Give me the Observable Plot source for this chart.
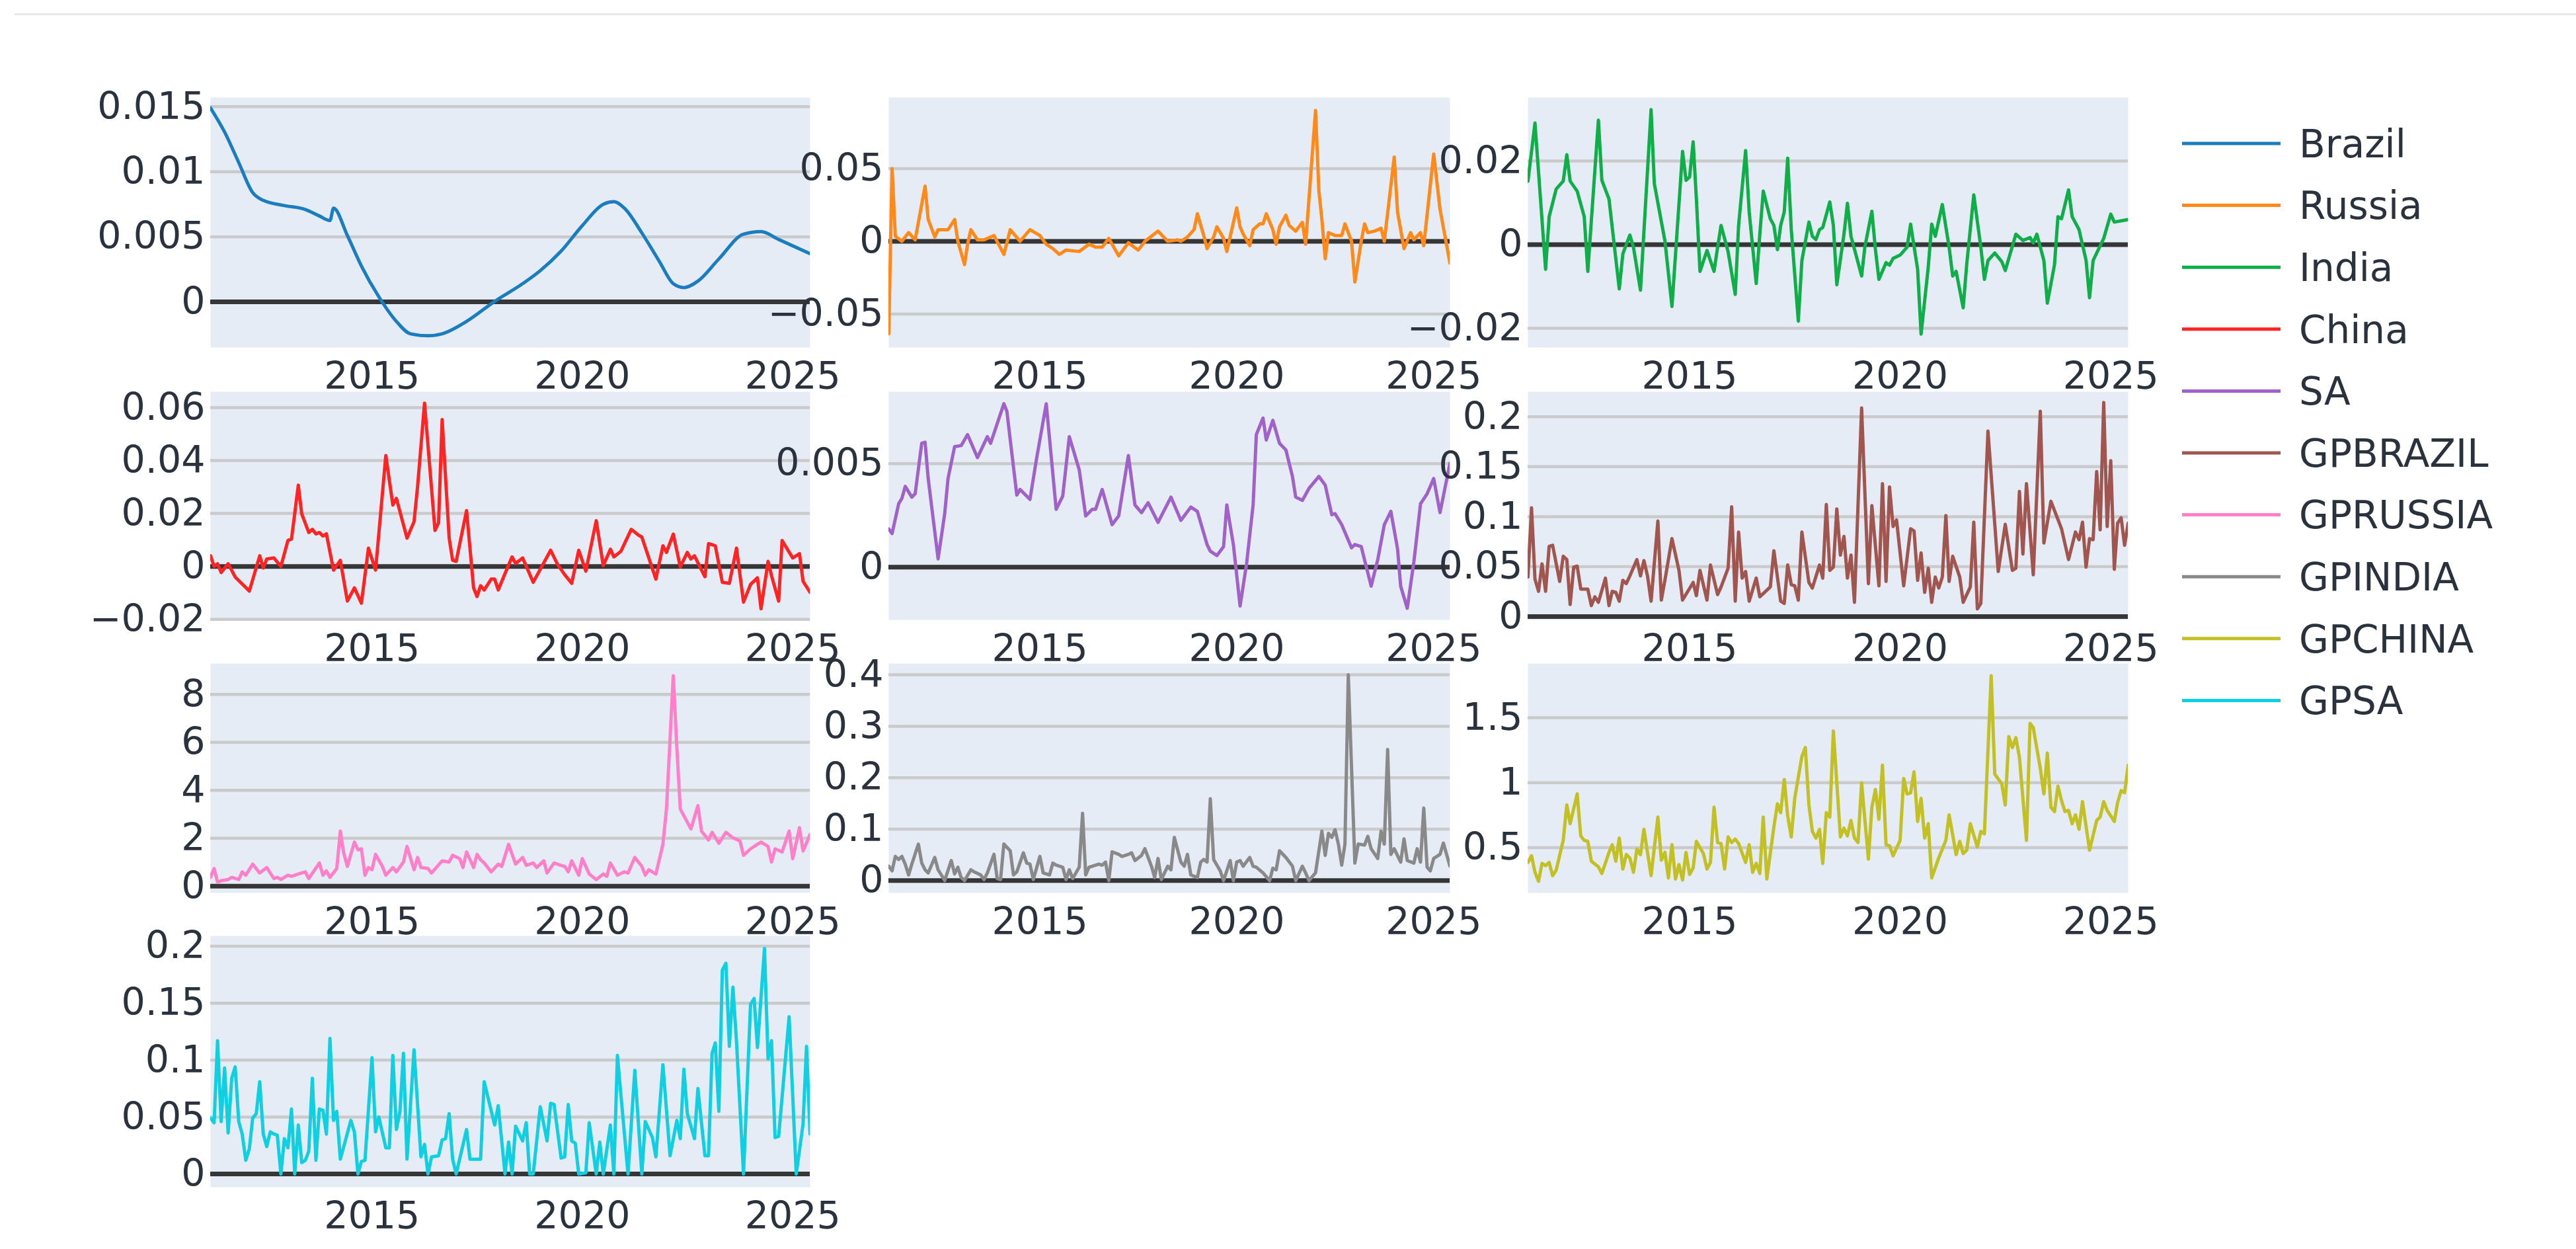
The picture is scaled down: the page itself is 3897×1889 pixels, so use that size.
<!DOCTYPE html>
<html>
<head>
<meta charset="utf-8">
<script src="https://cdn.jsdelivr.net/npm/d3@7"></script>
<script src="https://cdn.jsdelivr.net/npm/@observablehq/plot@0.6"></script>
<style>
  html, body { margin: 0; padding: 0; background: #ffffff; }
  #chart { position: relative; width: 3897px; height: 1889px; overflow: hidden; background: #ffffff; }
  #chart .panel { position: absolute; }
  #topRule { position: absolute; left: 22px; right: 0; top: 20px; height: 3px; background: #e8e8e8; }
  #legend { position: absolute; left: 0; top: 0; }
</style>
</head>
<body>
<div id="chart"><div id="topRule"></div></div>
<script>
// ---------- DATA: [months since 2011-03, value] ----------
const brazil = [[0,0.0149],[4,0.01305],[8,0.0107],[12,0.0084],[15,0.0078],[21,0.0074],[27,0.0071],[31,0.0066],[34,0.00625],[35,0.0072],[39,0.0051],[43,0.00276],[48,0.0004],[53,-0.0015],[57,-0.00245],[62,-0.0026],[66,-0.00245],[73,-0.0015],[81,0.00004],[89,0.0014],[94,0.0024],[100,0.0039],[106,0.00586],[112,0.0075],[115,0.0077],[118,0.0072],[123,0.0053],[128,0.0031],[132,0.0014],[135,0.0011],[139,0.0016],[145,0.0033],[152,0.0052],[157,0.0054],[162,0.0048],[171,0.0037]];

const russia = [[0,-0.0636],[1,0.05],[2,0.0035],[4,0.0],[6,0.006],[8,0.001],[11,0.038],[12,0.015],[14,0.003],[15,0.008],[18,0.008],[20,0.015],[21,0.0],[23,-0.016],[24,-0.002],[25,0.008],[27,0.001],[29,0.001],[32,0.004],[35,-0.009],[37,0.008],[40,0.0],[43,0.008],[46,0.004],[48,-0.002],[50,-0.005],[52,-0.009],[54,-0.006],[58,-0.007],[61,-0.002],[63,-0.004],[65,-0.004],[67,0.002],[70,-0.01],[73,-0.001],[76,-0.006],[78,0.0],[82,0.007],[85,0.0],[88,0.001],[89,0.0],[91,0.003],[93,0.008],[94,0.019],[96,0.004],[97,-0.005],[99,0.003],[100,0.01],[102,0.002],[103,-0.007],[106,0.023],[107,0.01],[108,0.005],[110,-0.003],[111,0.008],[113,0.012],[114,0.012],[115,0.019],[117,0.008],[118,-0.002],[119,0.01],[121,0.018],[122,0.011],[124,0.007],[126,0.013],[127,-0.002],[130,0.09],[131,0.035],[132,0.015],[133,-0.012],[134,0.006],[136,0.004],[138,0.004],[139,0.012],[141,0.0],[142,-0.028],[144,0.0],[145,0.012],[146,0.006],[148,0.007],[150,0.009],[151,0.0],[154,0.058],[155,0.02],[157,-0.005],[159,0.006],[160,0.001],[162,0.006],[163,-0.003],[166,0.06],[168,0.022],[171,-0.015]];

const india = [[0,0.0152],[2,0.0291],[5,-0.0059],[6,0.0067],[8,0.0133],[10,0.0152],[11,0.0215],[12,0.0152],[14,0.0128],[16,0.0067],[17,-0.0064],[20,0.0298],[21,0.0154],[23,0.0109],[26,-0.0106],[27,-0.0022],[29,0.0023],[30,-0.0006],[32,-0.0109],[35,0.0323],[36,0.0146],[39,0.0009],[41,-0.0148],[44,0.0223],[45,0.0154],[46,0.0162],[47,0.0246],[48,0.0109],[49,-0.0064],[51,-0.0014],[53,-0.0064],[54,-0.0006],[55,0.0046],[57,-0.0017],[59,-0.0119],[60,0.0046],[62,0.0225],[63,0.0078],[65,-0.0093],[66,0.0025],[67,0.0128],[69,0.0062],[70,0.0046],[71,-0.0012],[72,0.0046],[73,0.0078],[74,0.0207],[75,0.0036],[77,-0.0183],[78,-0.0038],[80,0.0054],[81,0.002],[82,0.0012],[83,0.0036],[84,0.0041],[86,0.0102],[87,0.0046],[88,-0.0096],[90,0.0025],[91,0.0099],[92,0.002],[95,-0.0075],[96,-0.0006],[98,0.008],[99,-0.0012],[100,-0.0083],[102,-0.0043],[103,-0.0049],[104,-0.0033],[106,-0.0025],[108,-0.0006],[109,0.0049],[111,-0.0059],[112,-0.0214],[114,-0.0054],[115,0.0049],[116,0.002],[118,0.0096],[120,-0.0006],[121,-0.0075],[122,-0.0064],[124,-0.0151],[125,-0.0046],[127,0.0119],[129,-0.0006],[130,-0.0083],[131,-0.0038],[133,-0.002],[135,-0.0041],[136,-0.0062],[139,0.0025],[141,0.001],[143,0.0017],[144,0.0004],[145,0.0025],[147,-0.0038],[148,-0.014],[150,-0.0048],[151,0.0067],[152,0.0062],[154,0.0131],[155,0.0067],[157,0.0036],[159,-0.0038],[160,-0.0127],[161,-0.0038],[164,0.0015],[166,0.0073],[167,0.0054],[171,0.006]];

const china = [[0,0.004],[1,0.0],[2,0.001],[3,-0.0023],[5,0.001],[7,-0.004],[11,-0.0093],[14,0.004],[15,-0.0006],[16,0.0028],[18,0.0032],[20,0.0],[22,0.0098],[23,0.0103],[25,0.0307],[26,0.0198],[28,0.0128],[29,0.014],[30,0.0123],[31,0.0128],[32,0.0115],[33,0.0123],[35,-0.0014],[37,0.0023],[39,-0.0131],[41,-0.0081],[43,-0.0139],[45,0.0069],[47,-0.0014],[50,0.0419],[52,0.0232],[53,0.0257],[56,0.0107],[58,0.0169],[59,0.0303],[61,0.0617],[64,0.0136],[65,0.0165],[66,0.0555],[68,0.0107],[69,0.0023],[70,0.0019],[73,0.0211],[75,-0.0081],[76,-0.0114],[77,-0.0073],[78,-0.0089],[80,-0.0048],[81,-0.0048],[82,-0.0089],[84,-0.0027],[86,0.0036],[87,0.0011],[89,0.0032],[92,-0.006],[97,0.0061],[99,0.0007],[101,-0.0031],[103,-0.0064],[105,0.0061],[107,-0.0018],[110,0.0173],[112,0.0003],[114,0.0065],[115,0.0036],[117,0.0057],[120,0.014],[122,0.0119],[123,0.0111],[127,-0.0048],[129,0.0078],[130,0.0053],[132,0.0122],[134,-0.0002],[136,0.0053],[137,0.0028],[138,0.004],[141,-0.0039],[142,0.0086],[144,0.0078],[146,-0.006],[148,-0.0064],[150,0.0069],[152,-0.0135],[154,-0.0068],[156,-0.0043],[157,-0.016],[159,0.0019],[160,-0.0035],[162,-0.0131],[163,0.0098],[166,0.0032],[168,0.0048],[169,-0.0056],[171,-0.0098]];

const sa = [[0,0.00184],[1,0.00162],[3,0.00306],[4,0.00332],[5,0.0039],[7,0.00338],[8,0.00354],[10,0.00598],[11,0.00603],[12,0.00428],[15,0.0004],[17,0.00258],[18,0.00428],[20,0.00582],[22,0.00587],[24,0.0064],[27,0.00529],[30,0.0063],[31,0.00598],[35,0.00789],[36,0.00752],[39,0.00348],[40,0.00375],[43,0.00327],[45,0.00523],[48,0.00789],[49,0.00619],[51,0.00279],[53,0.00343],[55,0.0063],[58,0.0047],[60,0.00247],[62,0.00279],[63,0.00279],[65,0.00375],[68,0.00205],[70,0.00247],[73,0.00539],[75,0.003],[77,0.00263],[79,0.00311],[82,0.00216],[86,0.00338],[89,0.00226],[92,0.0029],[94,0.00269],[97,0.00109],[98,0.00077],[100,0.00056],[102,0.00099],[103,0.003],[105,0.00109],[107,-0.00188],[109,0.00014],[111,0.003],[112,0.0064],[114,0.0072],[115,0.00614],[117,0.00709],[119,0.00598],[121,0.00566],[123,0.00438],[124,0.00338],[126,0.00322],[128,0.0038],[131,0.00438],[133,0.00396],[135,0.00253],[136,0.00258],[138,0.00205],[141,0.00093],[142,0.00109],[144,0.00099],[147,-0.00092],[149,0.00035],[151,0.00205],[153,0.00269],[155,0.00088],[156,-0.00092],[158,-0.00199],[160,0.00024],[162,0.00306],[164,0.00354],[166,0.00428],[168,0.00263],[171,0.00502]];

const gpBrazil = [[0,0.0396],[1,0.1088],[2,0.0374],[3,0.0253],[4,0.0527],[5,0.0253],[6,0.0703],[7,0.0714],[9,0.0352],[10,0.0604],[11,0.0571],[12,0.0121],[13,0.0495],[14,0.0505],[15,0.0275],[17,0.0275],[18,0.011],[19,0.0198],[20,0.0143],[22,0.0385],[23,0.011],[24,0.0253],[25,0.0242],[26,0.0154],[27,0.0363],[28,0.033],[29,0.0407],[31,0.0571],[32,0.0407],[33,0.056],[34,0.0407],[35,0.0154],[37,0.0956],[38,0.0165],[39,0.0363],[41,0.078],[43,0.0462],[44,0.0165],[47,0.0341],[48,0.0209],[49,0.0462],[51,0.0165],[52,0.0516],[54,0.022],[55,0.0297],[57,0.0484],[58,0.1099],[59,0.0154],[60,0.0846],[61,0.0385],[62,0.0451],[63,0.0154],[65,0.0385],[66,0.0198],[68,0.0264],[69,0.0297],[70,0.0659],[72,0.0154],[73,0.0132],[74,0.0516],[75,0.0319],[76,0.0308],[77,0.0165],[78,0.0846],[80,0.0341],[81,0.0286],[83,0.0516],[84,0.0385],[85,0.1121],[86,0.0462],[87,0.0495],[88,0.1077],[89,0.0615],[90,0.0802],[91,0.0385],[92,0.0615],[93,0.0143],[95,0.2088],[97,0.033],[98,0.111],[100,0.0308],[101,0.133],[102,0.0352],[103,0.1297],[104,0.0901],[105,0.0967],[107,0.0308],[109,0.0879],[110,0.0857],[111,0.0363],[112,0.0637],[113,0.0242],[114,0.0484],[115,0.0143],[116,0.0396],[117,0.0286],[118,0.0396],[119,0.1011],[120,0.0352],[121,0.0604],[123,0.0396],[124,0.0143],[126,0.0297],[127,0.0945],[128,0.0077],[129,0.0132],[131,0.1857],[134,0.0451],[136,0.0923],[138,0.0462],[139,0.0484],[140,0.1253],[141,0.0626],[142,0.133],[144,0.0418],[146,0.2055],[147,0.0736],[149,0.1154],[152,0.0879],[154,0.0571],[156,0.0846],[157,0.0769],[158,0.0945],[159,0.0495],[160,0.078],[161,0.0769],[162,0.1451],[163,0.0868],[164,0.2143],[165,0.0901],[166,0.156],[167,0.0473],[168,0.0934],[169,0.0989],[170,0.0714],[171,0.0934]];

const gpRussia = [[0,0.37],[1,0.74],[2,0.18],[3,0.23],[5,0.28],[6,0.37],[8,0.28],[9,0.6],[10,0.46],[12,0.92],[14,0.55],[16,0.78],[18,0.32],[19,0.37],[20,0.28],[22,0.46],[23,0.41],[25,0.51],[27,0.6],[28,0.32],[31,0.97],[32,0.46],[33,0.64],[34,0.37],[36,0.74],[37,2.30],[38,1.38],[39,0.83],[41,1.84],[42,1.52],[43,1.56],[44,0.46],[45,0.78],[46,0.69],[47,1.33],[49,0.83],[50,0.46],[52,0.78],[53,0.6],[55,1.01],[56,1.66],[58,0.69],[59,1.2],[60,0.78],[62,0.74],[63,0.55],[66,1.06],[68,1.01],[69,1.29],[71,1.15],[72,0.78],[73,1.43],[75,0.78],[76,1.33],[77,1.1],[78,0.97],[80,0.6],[82,0.92],[83,0.83],[85,1.75],[87,0.92],[89,1.2],[90,0.87],[92,0.97],[93,0.78],[95,1.06],[96,0.55],[98,0.97],[100,0.87],[101,0.83],[102,0.6],[103,1.06],[105,0.46],[106,1.15],[108,0.51],[110,0.28],[112,0.51],[113,0.41],[114,0.97],[116,0.46],[118,0.6],[119,0.55],[121,1.2],[123,0.83],[124,0.46],[125,0.69],[127,0.51],[129,1.75],[130,3.22],[132,8.78],[133,5.79],[134,3.22],[137,2.39],[139,3.36],[140,2.3],[142,1.93],[143,2.25],[145,1.79],[147,2.25],[149,2.02],[151,1.89],[152,1.29],[154,1.56],[156,1.75],[157,1.84],[159,1.66],[160,1.01],[161,1.56],[163,1.43],[165,2.3],[166,1.15],[168,2.44],[169,1.47],[171,2.16]];

const gpIndia = [[0,0.028],[1,0.019],[2,0.047],[3,0.041],[4,0.047],[5,0.032],[6,0.011],[7,0.032],[9,0.071],[10,0.034],[11,0.021],[12,0.015],[14,0.045],[15,0.021],[16,0.011],[17,0.0],[19,0.039],[20,0.013],[21,0.026],[22,0.006],[23,0.0],[25,0.021],[26,0.017],[28,0.011],[29,0.002],[30,0.015],[32,0.051],[33,0.004],[34,0.002],[35,0.071],[37,0.058],[38,0.011],[39,0.017],[41,0.054],[42,0.034],[43,0.032],[44,0.002],[46,0.047],[47,0.015],[49,0.011],[50,0.034],[51,0.03],[53,0.026],[54,0.002],[55,0.021],[56,0.004],[58,0.026],[59,0.131],[60,0.011],[61,0.026],[62,0.028],[64,0.032],[65,0.03],[66,0.036],[67,0.0],[68,0.056],[70,0.051],[71,0.047],[73,0.051],[74,0.054],[75,0.039],[77,0.049],[78,0.062],[80,0.028],[81,0.006],[82,0.043],[83,0.002],[85,0.028],[86,0.021],[87,0.084],[89,0.036],[90,0.028],[91,0.051],[92,0.011],[94,0.006],[95,0.036],[96,0.041],[97,0.036],[98,0.159],[99,0.041],[101,0.019],[102,0.0],[104,0.039],[105,0.0],[106,0.036],[107,0.039],[108,0.028],[110,0.045],[111,0.028],[112,0.026],[114,0.015],[116,0.0],[117,0.024],[118,0.021],[119,0.058],[121,0.045],[123,0.028],[124,0.0],[126,0.028],[127,0.015],[128,0.0],[130,0.015],[132,0.096],[133,0.049],[134,0.092],[135,0.084],[136,0.099],[137,0.071],[138,0.03],[139,0.071],[140,0.4],[142,0.034],[143,0.071],[145,0.069],[146,0.086],[147,0.062],[149,0.043],[150,0.096],[151,0.071],[152,0.255],[153,0.051],[154,0.062],[156,0.036],[157,0.081],[158,0.039],[160,0.034],[161,0.062],[162,0.036],[163,0.141],[164,0.026],[165,0.019],[166,0.043],[168,0.051],[169,0.073],[171,0.028]];

const gpChina = [[0,0.386],[1,0.437],[2,0.31],[3,0.241],[4,0.378],[5,0.361],[6,0.386],[7,0.284],[8,0.327],[10,0.556],[11,0.828],[12,0.684],[14,0.913],[15,0.59],[16,0.556],[17,0.548],[18,0.395],[20,0.352],[21,0.301],[23,0.463],[24,0.522],[25,0.395],[26,0.573],[27,0.335],[28,0.446],[29,0.42],[30,0.31],[31,0.488],[32,0.446],[33,0.641],[35,0.284],[37,0.735],[38,0.403],[39,0.463],[40,0.267],[41,0.522],[42,0.258],[43,0.369],[44,0.25],[45,0.463],[46,0.293],[47,0.344],[48,0.548],[50,0.454],[51,0.335],[52,0.386],[53,0.811],[54,0.539],[55,0.531],[56,0.335],[57,0.582],[58,0.539],[59,0.565],[60,0.531],[62,0.386],[63,0.522],[64,0.31],[65,0.378],[66,0.301],[67,0.735],[68,0.258],[70,0.658],[71,0.837],[72,0.769],[73,1.024],[74,0.743],[75,0.582],[76,0.879],[78,1.202],[79,1.27],[80,0.828],[81,0.624],[82,0.573],[83,0.641],[84,0.378],[85,0.769],[86,0.735],[87,1.398],[88,0.998],[89,0.582],[90,0.65],[91,0.59],[92,0.709],[93,0.573],[94,0.539],[95,0.998],[97,0.412],[98,0.811],[99,0.947],[100,0.718],[101,1.134],[102,0.522],[103,0.514],[104,0.437],[106,0.556],[107,1.032],[108,0.913],[109,0.922],[110,1.083],[111,0.701],[112,0.879],[113,0.573],[114,0.684],[115,0.267],[117,0.42],[119,0.556],[120,0.752],[121,0.599],[122,0.446],[123,0.548],[124,0.454],[125,0.48],[126,0.684],[128,0.505],[129,0.624],[130,0.607],[132,1.823],[133,1.066],[135,0.99],[136,0.828],[137,1.355],[138,1.27],[139,1.347],[140,1.194],[142,0.556],[143,1.457],[144,1.423],[146,1.109],[147,0.913],[148,1.228],[149,0.811],[150,0.777],[151,0.973],[152,0.862],[153,0.777],[154,0.786],[155,0.684],[156,0.752],[157,0.641],[158,0.854],[160,0.48],[162,0.709],[163,0.735],[164,0.854],[165,0.786],[167,0.701],[168,0.845],[169,0.939],[170,0.922],[171,1.134]];

const gpSA = [[0,0.049],[1,0.045],[2,0.117],[3,0.046],[4,0.093],[5,0.036],[6,0.084],[7,0.094],[8,0.046],[9,0.035],[10,0.012],[11,0.022],[12,0.049],[13,0.053],[14,0.081],[15,0.035],[16,0.024],[17,0.037],[18,0.035],[19,0.034],[20,0.0],[21,0.031],[22,0.023],[23,0.057],[24,0.0],[25,0.043],[26,0.01],[27,0.012],[28,0.02],[29,0.084],[30,0.012],[31,0.057],[32,0.056],[33,0.035],[34,0.119],[35,0.047],[36,0.055],[37,0.013],[38,0.024],[40,0.047],[41,0.037],[42,0.0],[43,0.011],[44,0.012],[46,0.102],[47,0.037],[48,0.05],[50,0.023],[51,0.023],[52,0.104],[53,0.039],[54,0.055],[55,0.106],[56,0.013],[57,0.06],[58,0.109],[60,0.015],[61,0.026],[62,0.0],[63,0.015],[65,0.016],[66,0.03],[67,0.031],[68,0.053],[69,0.013],[70,0.0],[73,0.039],[74,0.013],[75,0.013],[77,0.013],[78,0.081],[81,0.043],[82,0.06],[84,0.0],[85,0.028],[86,0.0],[87,0.042],[89,0.029],[90,0.045],[91,0.0],[92,0.0],[94,0.059],[96,0.029],[97,0.062],[98,0.061],[100,0.014],[101,0.015],[102,0.061],[103,0.029],[104,0.027],[105,0.0],[107,0.001],[108,0.045],[110,0.0],[111,0.028],[112,0.0],[114,0.043],[115,0.0],[116,0.104],[119,0.0],[121,0.091],[123,0.0],[124,0.046],[126,0.032],[127,0.015],[129,0.096],[131,0.016],[133,0.047],[134,0.031],[135,0.092],[136,0.053],[138,0.031],[139,0.075],[141,0.016],[142,0.016],[143,0.106],[144,0.115],[145,0.055],[146,0.179],[147,0.185],[148,0.112],[149,0.164],[150,0.116],[152,0.0],[154,0.149],[155,0.154],[156,0.111],[158,0.198],[159,0.101],[160,0.117],[161,0.032],[162,0.033],[165,0.138],[167,0.0],[169,0.044],[170,0.112],[171,0.035]];

// series names, colours, axis ticks and axis ranges
const seriesNames = ["Brazil","Russia","India","China","SA","GPBRAZIL","GPRUSSIA","GPINDIA","GPCHINA","GPSA"];
const seriesData = [brazil, russia, india, china, sa, gpBrazil, gpRussia, gpIndia, gpChina, gpSA];
const seriesColors = ["#1a7dc0","#ff8a1a","#0fae48","#ff2424","#a062c8","#a0564e","#ff80c8","#898989","#c2c024","#10cfe0"];
const yTicks = [
  [0,0.005,0.01,0.015],
  [-0.05,0,0.05],
  [-0.02,0,0.02],
  [-0.02,0,0.02,0.04,0.06],
  [0,0.005],
  [0,0.05,0.1,0.15,0.2],
  [0,2,4,6,8],
  [0,0.1,0.2,0.3,0.4],
  [0.5,1,1.5],
  [0,0.05,0.1,0.15,0.2]
];
const yRanges = [
  [-0.0035,0.0157],
  [-0.073,0.0989],
  [-0.0246,0.0352],
  [-0.0202,0.066],
  [-0.00255,0.00847],
  [-0.0033,0.225],
  [-0.28,9.29],
  [-0.024,0.422],
  [0.151,1.917],
  [-0.0116,0.209]
];
const xTickYears = [2015, 2020, 2025];
const firstMonth = [2011, 3];
const lastMonth = [2025, 6];

// ---------- LAYOUT ----------
const colEdges = [[318,1225],[1344,2193],[2311,3219]];
const rowEdges = [[147,525],[592,937],[1003,1350],[1415,1795]];
const FONT = "'DejaVu Sans', Verdana, sans-serif";
const TEXT = "#2a323e";
const BG = "#E5ECF6";
const GRID = "#cacaca";
const ZERO = "#363636";
const ML = 240, MR = 90, MT = 30, MB = 100;

const chart = document.getElementById("chart");
const xStart = new Date(Date.UTC(firstMonth[0], firstMonth[1]-1, 1));
const xEnd = new Date(Date.UTC(lastMonth[0], lastMonth[1]-1, 1));
const xTicks = xTickYears.map(y => new Date(Date.UTC(y, 0, 1)));
const fmt = d3.format("~g");

seriesNames.forEach((name, i) => {
  const row = Math.floor(i / 3), col = i % 3;
  const [x0, x1] = colEdges[col];
  const [y0, y1] = rowEdges[row];
  const rows = seriesData[i].map(([m, v]) => ({date: d3.utcMonth.offset(xStart, m), value: v}));
  const dom = yRanges[i];
  const hasZero = dom[0] < 0 && dom[1] > 0;
  const svg = Plot.plot({
    width: (x1 - x0) + ML + MR,
    height: (y1 - y0) + MT + MB,
    marginLeft: ML, marginRight: MR, marginTop: MT, marginBottom: MB,
    style: {background: "transparent", fontFamily: FONT, fontSize: "57px", color: TEXT, overflow: "visible"},
    x: {type: "utc", domain: [xStart, xEnd]},
    y: {domain: dom},
    marks: [
      Plot.frame({fill: BG, stroke: "none"}),
      Plot.gridY(yTicks[i], {stroke: GRID, strokeOpacity: 1, strokeWidth: 4.5}),
      hasZero ? Plot.ruleY([0], {stroke: ZERO, strokeWidth: 7}) : null,
      Plot.line(rows, {x: "date", y: "value", stroke: seriesColors[i], strokeWidth: 5, clip: true,
        curve: name === "Brazil" ? "monotone-x" : "linear"}),
      Plot.axisX({ticks: xTicks, tickSize: 0, tickPadding: 22, tickFormat: "%Y", label: null}),
      Plot.axisY({ticks: yTicks[i], tickSize: 0, tickPadding: 8, tickFormat: fmt, label: null})
    ]
  });
  svg.classList.add("panel");
  svg.style.left = (x0 - ML) + "px";
  svg.style.top = (y0 - MT) + "px";
  chart.appendChild(svg);
});

// ---------- LEGEND ----------
const legend = d3.select(chart).append("svg")
  .attr("id", "legend").attr("width", 3897).attr("height", 1889)
  .style("font-family", FONT).style("font-size", "58px");
const legX1 = 3301, legX2 = 3450, legTextX = 3478, legY0 = 217, legStep = 93.6;
seriesNames.forEach((name, i) => {
  const y = legY0 + legStep * i;
  legend.append("line").attr("x1", legX1).attr("x2", legX2).attr("y1", y).attr("y2", y)
    .attr("stroke", seriesColors[i]).attr("stroke-width", 5);
  legend.append("text").attr("x", legTextX).attr("y", y).attr("dy", "0.36em")
    .attr("fill", TEXT).text(name);
});
</script>
</body>
</html>
